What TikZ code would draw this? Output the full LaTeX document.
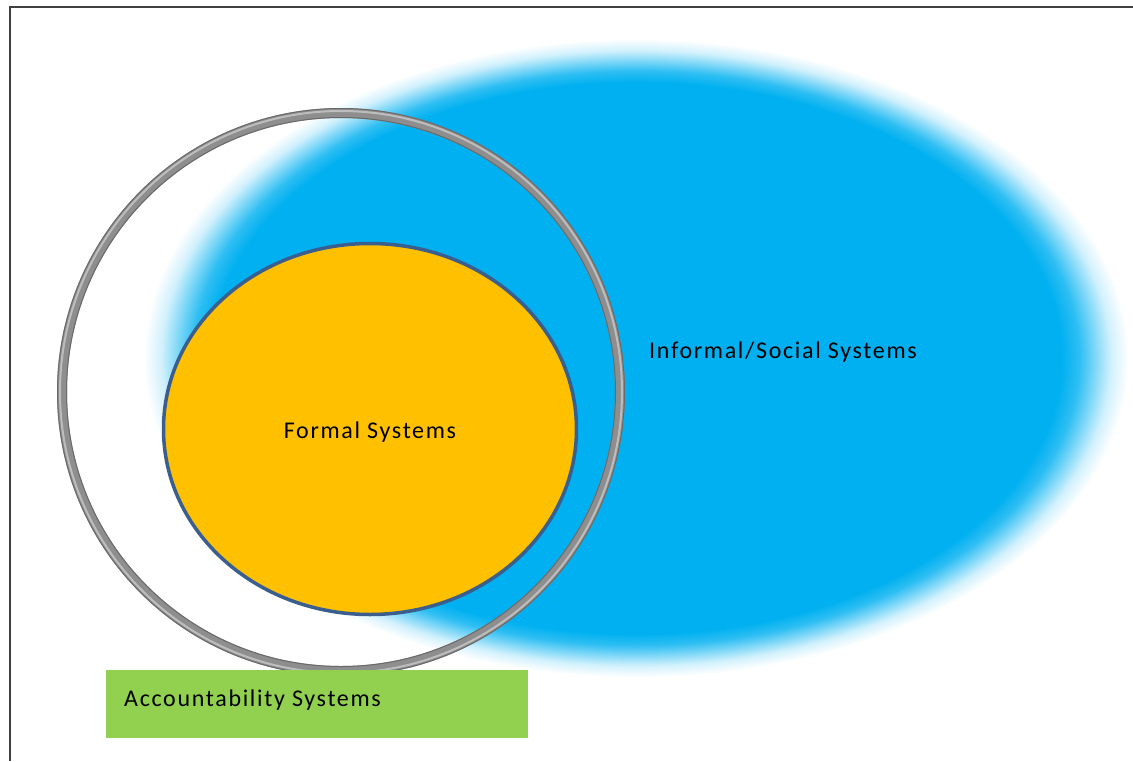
\documentclass[tikz,border=0pt]{standalone}
\usepackage{fontspec}
\setmainfont{Carlito}[LetterSpace=7]
\usetikzlibrary{shapes.geometric}
\definecolor{skyb}{HTML}{00B0F0}
\definecolor{orangef}{HTML}{FFC000}
\definecolor{edgeblue}{HTML}{3A5F8E}
\definecolor{accgreen}{HTML}{92D050}
\definecolor{ringbase}{HTML}{8E8E8E}
\definecolor{ringlight}{HTML}{BDBDBD}
\definecolor{ringdark}{HTML}{6A6A6A}
\definecolor{framegray}{HTML}{404040}
\pgfdeclareradialshading{softblue}{\pgfpoint{0bp}{0bp}}{color(0bp)=(skyb); color(21.5bp)=(skyb); color(22.4bp)=(skyb!82!white); color(23.2bp)=(skyb!50!white); color(24bp)=(skyb!18!white); color(24.9bp)=(white); color(50bp)=(white)}
\tikzset{
  lbl/.style={inner sep=0pt, font=\fontsize{24}{28}\selectfont, text=black},
  ringstroke/.style={circle, inner sep=0pt, fill=none},
}
\begin{document}
\begin{tikzpicture}[x=1pt,y=-1pt]
\useasboundingbox (0,0) rectangle (1133,761);
% frame
\coordinate (fb) at (10,761);
\coordinate (ftl) at (10,7);
\coordinate (fr) at (1133,7);
\draw[framegray, line width=1.5pt] (fb) -- (ftl) -- (fr);
% blue soft ellipse
\node[ellipse, shading=softblue, minimum width=989pt, minimum height=641pt, inner sep=0pt] (informal) at (636,358) {};
% gray ring
\node[ringstroke, draw=ringbase, line width=10pt, minimum size=558pt] (ring) at (341,392) {};
\node[ringstroke, draw=ringdark, line width=1pt, minimum size=549pt] (ringin) at (341,392) {};
\node[ringstroke, draw=ringdark, line width=1pt, minimum size=567pt] (ringout) at (341,392) {};
\node[ringstroke, draw=ringlight, line width=2pt, minimum size=562pt] (ringl) at (341,392) {};
% formal ellipse
\node[ellipse, draw=edgeblue, line width=3.5pt, fill=orangef, minimum width=413pt, minimum height=371pt, inner sep=0pt] (formal) at (370,429) {};
% green box
\node[rectangle, fill=accgreen, minimum width=422pt, minimum height=68pt, inner sep=0pt, anchor=north west] (acc) at (106,670) {};
% labels
\node[lbl, anchor=base] (tformal) at (370,438) {Formal Systems};
\node[lbl, anchor=base west] (tinformal) at (649,358) {Informal/Social Systems};
\node[lbl, anchor=base west] (tacc) at (124,706) {Accountability Systems};
\end{tikzpicture}
\end{document}
